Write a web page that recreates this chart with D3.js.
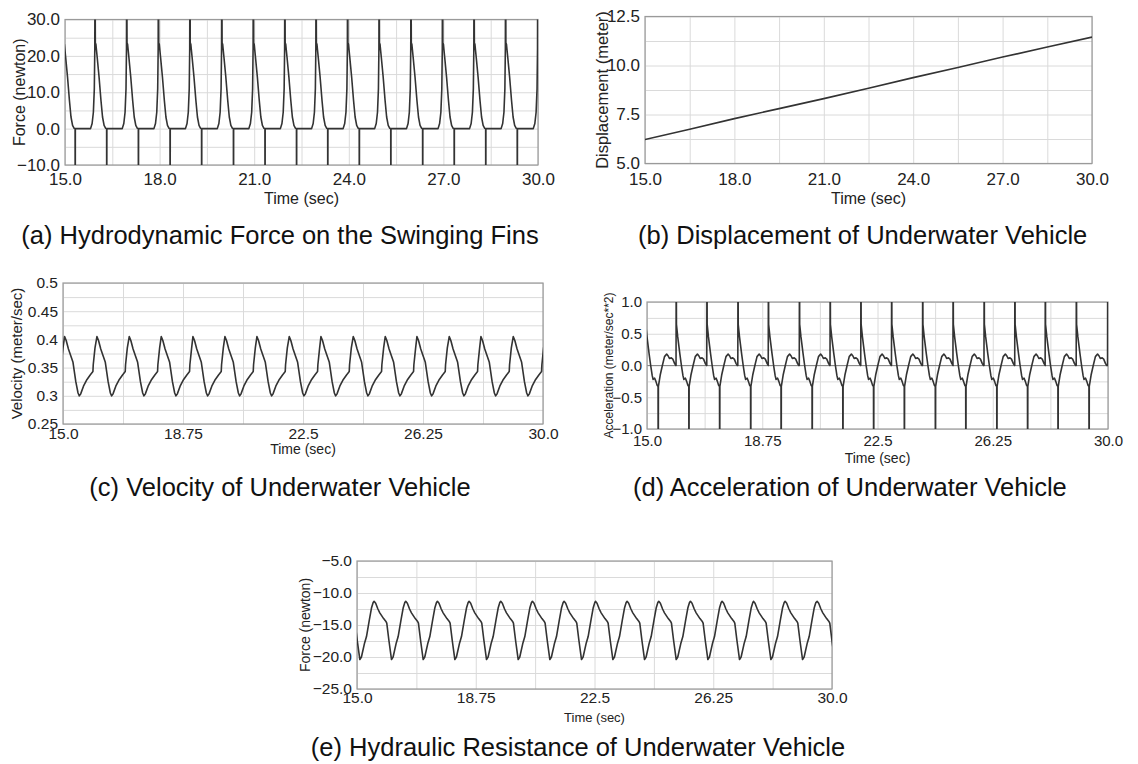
<!DOCTYPE html>
<html>
<head>
<meta charset="utf-8">
<script src="https://cdn.jsdelivr.net/npm/d3@7"></script>
<style>
body { margin: 0; background: #fff; }
svg { display: block; font-family: "Liberation Sans", Arial, sans-serif; }
</style>
</head>
<body>
<svg id="chart" width="1138" height="764"></svg>
<script>
// time axis ticks
var timeTicks3 = [15, 18, 21, 24, 27, 30];
var timeTicks375 = [15, 18.75, 22.5, 26.25, 30];
var timeLabels375 = ["15.0", "18.75", "22.5", "26.25", "30.0"];

// (a) fin force: time of each upward spike, and the shape of one stroke [offset sec, newton]
var finSpikeTimes = [14.95, 15.95, 16.955, 17.96, 18.96, 19.97, 20.97, 21.97, 22.96, 23.96, 24.96, 25.97, 26.97, 27.97, 28.97, 29.99];
var finShape = [[-0.14, 0], [-0.09, 1.4], [-0.05, 4.5], [-0.02, 11], [-0.005, 22], [0, 45], [0.004, 45], [0.012, 23.6],
	[0.03, 23.2], [0.07, 19.7], [0.13, 14.2], [0.19, 7.8], [0.24, 3.2], [0.29, 0.9], [0.34, 0.1], [0.37, 0],
	[0.372, -20], [0.376, -20], [0.378, 0], [0.85, 0]];

// (b) displacement
var dispTimes = [15, 16.5, 18, 19.5, 21, 22.5, 24, 25.5, 27, 28.5, 30];
var dispValues = [6.22, 6.75, 7.29, 7.8, 8.31, 8.84, 9.38, 9.9, 10.43, 10.94, 11.45];

// (c) velocity: peak times and one period
var velPeakTimes = [14.05, 15.05, 16.06, 17.07, 18.07, 19.06, 20.06, 21.06, 22.07, 23.06, 24.07, 25.07, 26.06, 27.07, 28.06, 29.07, 30.07];
var velShape = [[0, 0.405], [0.05, 0.398], [0.12, 0.383], [0.26, 0.36], [0.35, 0.325], [0.42, 0.305], [0.46, 0.300],
	[0.5, 0.303], [0.59, 0.317], [0.7, 0.329], [0.8, 0.337], [0.885, 0.343], [0.895, 0.355], [0.95, 0.385]];

// (d) acceleration: spike times and one period
var accSpikeTimes = [14.95, 15.95, 16.95, 17.96, 18.95, 19.96, 20.96, 21.96, 22.96, 23.97, 24.96, 25.97, 26.97, 27.96, 28.97, 29.99];
var accShape = [[-0.005, 0.0], [0, 1.6], [0.004, 1.6], [0.008, 0.65], [0.05, 0.45], [0.12, 0.18], [0.17, 0.0],
	[0.22, -0.16], [0.25, -0.22], [0.3, -0.2], [0.34, -0.25], [0.38, -0.31], [0.41, -0.33], [0.413, -1.6],
	[0.418, -1.6], [0.421, -0.33], [0.48, -0.15], [0.55, 0.0], [0.62, 0.14], [0.69, 0.18], [0.74, 0.15],
	[0.78, 0.11], [0.84, 0.12], [0.89, 0.1], [0.95, 0.03], [0.99, 0.0]];

// (e) hydraulic resistance: peak times and one period
var resPeakTimes = [14.54, 15.54, 16.54, 17.54, 18.54, 19.54, 20.54, 21.54, 22.53, 23.53, 24.53, 25.53, 26.53, 27.52, 28.52, 29.53, 30.53];
var resShape = [[0, -11.3], [0.05, -11.6], [0.12, -12.5], [0.18, -13.1], [0.3, -14.0], [0.38, -14.5], [0.4, -14.7],
	[0.47, -17.5], [0.55, -20.4], [0.6, -20.0], [0.7, -17.8], [0.76, -16.8], [0.85, -14.2], [0.92, -12.3], [0.97, -11.5]];

var captions = [
	"(a) Hydrodynamic Force on the Swinging Fins",
	"(b) Displacement of Underwater Vehicle",
	"(c) Velocity of Underwater Vehicle",
	"(d) Acceleration of Underwater Vehicle",
	"(e) Hydraulic Resistance of Underwater Vehicle"
];

function buildSeries(times, shape) {
	var pts = [];
	times.forEach(function (t) {
		shape.forEach(function (s) {
			pts.push([t + s[0], s[1]]);
		});
	});
	return pts.filter(function (p) { return p[0] >= 14 && p[0] <= 31; });
}

var svg = d3.select("#chart");
var fmt1 = d3.format(".1f");

function drawPanel(cfg, idx) {
	var x = d3.scaleLinear().domain([15, 30]).range([cfg.left, cfg.right]);
	var y = d3.scaleLinear().domain(cfg.yDomain).range([cfg.bottom, cfg.top]);
	var w = cfg.right - cfg.left, h = cfg.bottom - cfg.top;

	var g = svg.append("g").attr("class", "panel");

	// grid, major and minor lines alike
	var xGrid = d3.range(15, 30.001, cfg.xStep);
	var yGrid = d3.range(cfg.yDomain[0], cfg.yDomain[1] + 1e-6, cfg.yStep);

	g.append("g")
		.attr("transform", "translate(0," + cfg.bottom + ")")
		.call(d3.axisBottom(x).tickValues(xGrid).tickSize(-h).tickFormat(""))
		.call(function (a) {
			a.select(".domain").remove();
			a.selectAll("line").style("stroke", "#dadada");
		});
	g.append("g")
		.attr("transform", "translate(" + cfg.left + ",0)")
		.call(d3.axisLeft(y).tickValues(yGrid).tickSize(-w).tickFormat(""))
		.call(function (a) {
			a.select(".domain").remove();
			a.selectAll("line").style("stroke", "#dadada");
		});

	if (cfg.zeroLine) {
		g.append("line")
			.attr("x1", cfg.left).attr("x2", cfg.right)
			.attr("y1", y(0)).attr("y2", y(0))
			.style("stroke", "#8a8a8a").style("stroke-width", 1.2);
	}

	// frame
	g.append("rect")
		.attr("x", cfg.left).attr("y", cfg.top)
		.attr("width", w).attr("height", h)
		.style("fill", "none").style("stroke", "#9a9a9a").style("stroke-width", 1.2);

	// curve
	g.append("clipPath").attr("id", "clip" + idx)
		.append("rect")
		.attr("x", cfg.left).attr("y", cfg.top)
		.attr("width", w).attr("height", h);

	var line = d3.line()
		.x(function (d) { return x(d[0]); })
		.y(function (d) { return y(d[1]); });

	g.append("path")
		.datum(cfg.data)
		.attr("clip-path", "url(#clip" + idx + ")")
		.attr("d", line)
		.style("fill", "none")
		.style("stroke", "#333")
		.style("stroke-width", 1.6)
		.style("stroke-linejoin", "round");

	// tick labels
	g.append("g")
		.attr("transform", "translate(" + cfg.left + ",0)")
		.call(d3.axisLeft(y).tickValues(cfg.yTicks).tickSize(0).tickPadding(5).tickFormat(cfg.yFormat))
		.call(function (a) {
			a.select(".domain").remove();
			a.selectAll("text").style("font-size", cfg.tickFont + "px").style("fill", "#222")
				.style("font-family", "'Liberation Sans', Arial, sans-serif");
		});
	g.append("g")
		.attr("transform", "translate(0," + cfg.bottom + ")")
		.call(d3.axisBottom(x).tickValues(cfg.xTicks).tickSize(0).tickPadding(cfg.xPad)
			.tickFormat(function (d, i) { return cfg.xLabels[i]; }))
		.call(function (a) {
			a.select(".domain").remove();
			a.selectAll("text").style("font-size", cfg.tickFont + "px").style("fill", "#222")
				.style("font-family", "'Liberation Sans', Arial, sans-serif");
		});

	// axis titles
	g.append("text")
		.attr("x", (cfg.left + cfg.right) / 2)
		.attr("y", cfg.xTitleY)
		.attr("text-anchor", "middle")
		.style("font-size", cfg.xTitleFont + "px")
		.style("fill", "#222")
		.text("Time (sec)");
	g.append("text")
		.attr("transform", "translate(" + cfg.yTitleX + "," + ((cfg.top + cfg.bottom) / 2) + ")rotate(-90)")
		.attr("text-anchor", "middle")
		.attr("dy", "0.35em")
		.style("font-size", cfg.yTitleFont + "px")
		.style("fill", "#222")
		.text(cfg.yTitle);

	// caption
	g.append("text")
		.attr("x", cfg.capX)
		.attr("y", cfg.capY)
		.attr("text-anchor", cfg.capAnchor)
		.style("font-size", "25.5px")
		.style("fill", "#111")
		.text(captions[idx]);
}

var panels = [
	{
		left: 65, right: 538, top: 19.5, bottom: 165,
		yDomain: [-10, 30], yStep: 5, xStep: 1.5,
		yTicks: [-10, 0, 10, 20, 30], yFormat: fmt1,
		xTicks: timeTicks3, xLabels: timeTicks3.map(fmt1), xPad: 8,
		tickFont: 17, xTitleFont: 16, yTitleFont: 16,
		yTitle: "Force (newton)", yTitleX: 19, xTitleY: 204,
		capX: 280, capY: 244, capAnchor: "middle",
		data: buildSeries(finSpikeTimes, finShape)
	},
	{
		left: 645, right: 1092, top: 16.5, bottom: 163.5,
		yDomain: [5, 12.5], yStep: 1.25, xStep: 1.5,
		yTicks: [5, 7.5, 10, 12.5], yFormat: fmt1,
		xTicks: timeTicks3, xLabels: timeTicks3.map(fmt1), xPad: 9,
		tickFont: 17, xTitleFont: 16, yTitleFont: 16.5,
		yTitle: "Displacement (meter)", yTitleX: 602, xTitleY: 204,
		capX: 638, capY: 244, capAnchor: "start",
		data: dispTimes.map(function (t, i) { return [t, dispValues[i]]; })
	},
	{
		left: 63, right: 543, top: 283, bottom: 424,
		yDomain: [0.25, 0.5], yStep: 0.025, xStep: 1.875,
		yTicks: [0.25, 0.3, 0.35, 0.4, 0.45, 0.5], yFormat: function (d) { return String(+d.toFixed(2)); },
		xTicks: timeTicks375, xLabels: timeLabels375, xPad: 4,
		tickFont: 15.5, xTitleFont: 14, yTitleFont: 15,
		yTitle: "Velocity (meter/sec)", yTitleX: 17, xTitleY: 454,
		capX: 280, capY: 496, capAnchor: "middle",
		data: buildSeries(velPeakTimes, velShape)
	},
	{
		left: 647, right: 1108, top: 302, bottom: 429,
		yDomain: [-1, 1], yStep: 0.25, xStep: 1.875,
		yTicks: [-1, -0.5, 0, 0.5, 1], yFormat: fmt1,
		xTicks: timeTicks375, xLabels: timeLabels375, xPad: 6,
		tickFont: 15, xTitleFont: 14, yTitleFont: 12,
		yTitle: "Acceleration (meter/sec**2)", yTitleX: 609, xTitleY: 463,
		capX: 633, capY: 496, capAnchor: "start", zeroLine: true,
		data: buildSeries(accSpikeTimes, accShape)
	},
	{
		left: 357, right: 832, top: 561, bottom: 689,
		yDomain: [-25, -5], yStep: 2.5, xStep: 1.875,
		yTicks: [-25, -20, -15, -10, -5], yFormat: fmt1,
		xTicks: timeTicks375, xLabels: timeLabels375, xPad: 3,
		tickFont: 15.5, xTitleFont: 13, yTitleFont: 14,
		yTitle: "Force (newton)", yTitleX: 305, xTitleY: 722,
		capX: 578, capY: 756, capAnchor: "middle",
		data: buildSeries(resPeakTimes, resShape)
	}
];

panels.forEach(drawPanel);
</script>
</body>
</html>
